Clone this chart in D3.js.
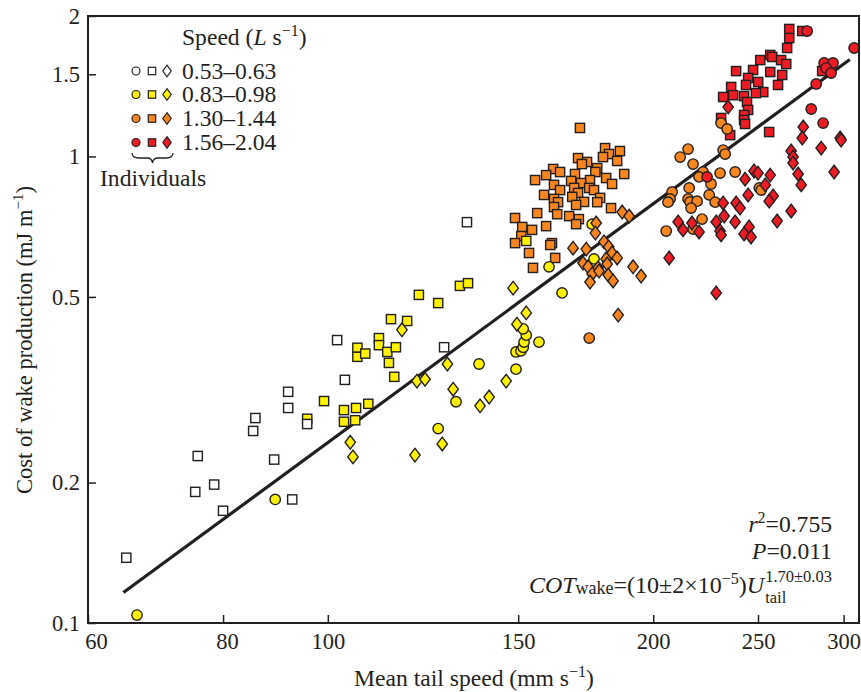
<!DOCTYPE html>
<html><head><meta charset="utf-8">
<script src="https://cdn.jsdelivr.net/npm/d3@7"></script>
<style>
body{margin:0;background:#fff}
svg{display:block}
text{font-family:"Liberation Serif","Times New Roman",serif;fill:#231f20}
</style>
</head><body>
<svg id="chart" width="861" height="692"></svg>
<script>
// ---------------- data ----------------
const xTicks = [60, 80, 100, 150, 200, 250, 300];
const yTicks = [0.1, 0.2, 0.5, 1, 1.5, 2];
const speedLabels = ["0.53–0.63", "0.83–0.98", "1.30–1.44", "1.56–2.04"];
const speedColors = ["#ffffff", "#fff200", "#f7861f", "#ed1c24"];

// [mean tail speed (mm/s), cost of wake production (mJ/m)]
const whiteSquares = [[65.1,0.138],[75.4,0.191],[75.8,0.228],[78.5,0.198],[80.0,0.174],[85.3,0.258],[85.7,0.275],[89.2,0.224],[91.9,0.313],[91.9,0.289],[92.7,0.184],[95.7,0.267],[102.0,0.404],[103.7,0.332],[128.1,0.390],[134.5,0.723]];

const yellowCircles = [[66.6,0.104],[89.4,0.184],[126.5,0.261],[131.4,0.298],[138.0,0.359],[149.3,0.381],[150.9,0.383],[151.6,0.390],[151.9,0.400],[152.6,0.414],[151.6,0.427],[156.8,0.400],[149.3,0.350],[160.2,0.580],[164.7,0.510],[176.3,0.603],[175.6,0.716]];
const yellowSquares = [[95.7,0.274],[99.2,0.299],[103.5,0.286],[103.5,0.270],[106.2,0.289],[106.0,0.272],[109.0,0.295],[106.5,0.389],[106.5,0.372],[108.3,0.378],[111.5,0.408],[111.5,0.394],[113.5,0.381],[113.9,0.361],[115.2,0.337],[115.6,0.390],[114.4,0.448],[118.4,0.444],[121.4,0.505],[126.5,0.485],[132.5,0.528],[134.8,0.535],[152.6,0.659]];
const yellowDiamonds = [[104.9,0.244],[105.5,0.227],[117.1,0.425],[120.9,0.330],[123.0,0.333],[129.0,0.359],[130.6,0.317],[120.4,0.229],[127.6,0.242],[138.3,0.292],[141.0,0.305],[146.2,0.330],[148.4,0.522],[152.6,0.462],[149.6,0.437]];

const orangeSquares = [[171.1,1.151],[180.5,1.042],[182.0,1.012],[186.3,1.027],[179.7,0.997],[185.2,0.978],[170.4,0.992],[173.7,0.973],[171.8,0.963],[177.5,0.944],[176.8,0.926],[188.0,0.917],[161.6,0.940],[164.0,0.926],[159.2,0.912],[169.3,0.917],[155.5,0.890],[174.8,0.890],[180.9,0.899],[183.2,0.873],[161.9,0.869],[167.9,0.886],[171.5,0.877],[169.0,0.856],[174.5,0.856],[176.3,0.847],[164.0,0.847],[170.4,0.835],[168.3,0.819],[158.5,0.827],[178.6,0.815],[161.9,0.811],[163.3,0.798],[172.6,0.799],[177.5,0.798],[161.9,0.779],[169.7,0.787],[182.8,0.775],[156.2,0.756],[163.0,0.752],[167.2,0.745],[170.7,0.734],[149.0,0.738],[169.7,0.716],[159.2,0.709],[151.3,0.706],[154.5,0.696],[151.0,0.675],[149.0,0.652],[161.2,0.652],[160.6,0.646],[153.5,0.621],[162.3,0.606],[154.8,0.577]];
const orangeDiamonds = [[177.1,0.720],[176.8,0.685],[187.2,0.760],[190.0,0.745],[168.6,0.636],[173.4,0.633],[180.1,0.656],[181.9,0.640],[183.2,0.621],[185.2,0.606],[180.9,0.603],[172.2,0.591],[174.1,0.580],[177.8,0.577],[181.3,0.588],[191.6,0.580],[194.9,0.554],[175.6,0.560],[181.7,0.557],[183.6,0.541],[174.8,0.538],[185.6,0.457],[178.2,0.568]];
const orangeCircles = [[231.1,1.179],[234.1,1.145],[215.4,1.037],[211.8,0.997],[232.1,1.032],[233.1,1.012],[217.7,0.963],[222.4,0.926],[220.5,0.904],[230.6,0.921],[238.1,0.926],[226.2,0.873],[208.2,0.839],[215.9,0.856],[207.3,0.811],[206.4,0.798],[215.4,0.811],[216.3,0.799],[219.6,0.802],[216.8,0.775],[225.3,0.827],[228.2,0.798],[221.9,0.734],[217.7,0.699],[205.6,0.692],[250.7,0.856],[251.7,0.847],[174.5,0.408]];

const redSquares = [[267.2,1.876],[267.2,1.794],[274.7,1.857],[266.0,1.708],[256.6,1.650],[257.7,1.634],[251.2,1.609],[262.6,1.609],[265.5,1.578],[238.6,1.524],[247.4,1.532],[256.6,1.517],[263.2,1.495],[244.8,1.473],[250.1,1.444],[243.7,1.423],[236.1,1.409],[260.9,1.423],[252.8,1.374],[248.9,1.367],[237.1,1.353],[232.1,1.341],[242.7,1.347],[244.2,1.308],[244.8,1.258],[242.7,1.227],[242.7,1.197],[243.2,1.174],[231.1,1.209],[235.6,1.111],[256.0,1.128],[286.6,1.524]];
const redCircles = [[277.6,1.857],[306.8,1.708],[287.8,1.586],[293.3,1.586],[289.0,1.547],[292.1,1.509],[283.0,1.430],[280.0,1.264],[287.2,1.179],[224.3,0.904]];
const redDiamonds = [[234.6,1.276],[275.3,1.156],[274.7,1.095],[286.0,1.042],[297.8,1.095],[298.4,1.084],[268.3,1.027],[269.4,0.997],[269.4,0.968],[272.3,0.917],[274.1,0.869],[294.0,0.926],[247.9,0.931],[250.0,0.921],[243.2,0.894],[256.6,0.912],[253.9,0.869],[244.8,0.827],[258.2,0.823],[256.0,0.802],[232.1,0.795],[238.6,0.795],[240.6,0.775],[232.6,0.745],[210.9,0.724],[213.1,0.696],[217.2,0.720],[220.5,0.689],[228.7,0.724],[230.6,0.692],[231.1,0.679],[238.1,0.724],[245.3,0.706],[242.7,0.682],[246.3,0.672],[260.4,0.727],[268.3,0.764],[206.9,0.606],[228.7,0.510]];

// regression: COT_wake = a * U_tail^b
const fitCoef = 9.7e-5, fitExp = 1.70;
const fitRange = [64.7, 304];

// ---------------- chart ----------------
const ink = "#231f20";
const svg = d3.select("#chart");
const x = d3.scaleLog().domain([60, 310]).range([88, 859]);
const y = d3.scaleLog().domain([0.1, 2]).range([623, 16]);
const FS = 22.5;   // tick labels, y title
const FL = 23.6;   // legend, annotations, x title

// regression line (beneath points)
const line = d3.line().x(d => x(d)).y(d => y(fitCoef * Math.pow(d, fitExp)));
svg.append("path").attr("d", line(fitRange))
  .attr("fill", "none").attr("stroke", ink).attr("stroke-width", 3.2);

function drawMarks(g, data, shape, color, s) {
  const sel = g.selectAll(null).data(data).enter();
  if (shape === "circle") {
    sel.append("circle").attr("cx", d => x(d[0])).attr("cy", d => y(d[1])).attr("r", s.r);
  } else if (shape === "square") {
    sel.append("rect").attr("x", d => x(d[0]) - s.a/2).attr("y", d => y(d[1]) - s.a/2)
      .attr("width", s.a).attr("height", s.a);
  } else {
    sel.append("path").attr("d", d => {
      const cx = x(d[0]), cy = y(d[1]);
      return `M${cx},${cy - s.hh}L${cx + s.hw},${cy}L${cx},${cy + s.hh}L${cx - s.hw},${cy}Z`;
    });
  }
  g.attr("fill", color).attr("stroke", ink).attr("stroke-width", 1.4);
}
const big = {r: 5.2, a: 9.2, hw: 5.2, hh: 6.8};

const series = [
  {d: redSquares, shape: "square", g: 3},
  {d: orangeSquares, shape: "square", g: 2},
  {d: yellowSquares, shape: "square", g: 1},
  {d: whiteSquares, shape: "square", g: 0},
  {d: yellowCircles, shape: "circle", g: 1},
  {d: orangeCircles, shape: "circle", g: 2},
  {d: redCircles, shape: "circle", g: 3},
  {d: yellowDiamonds, shape: "diamond", g: 1},
  {d: orangeDiamonds, shape: "diamond", g: 2},
  {d: redDiamonds, shape: "diamond", g: 3}
];
series.forEach(sr => drawMarks(svg.append("g"), sr.d, sr.shape, speedColors[sr.g], big));

// frame
svg.append("rect").attr("x", 88).attr("y", 16).attr("width", 771).attr("height", 607)
  .attr("fill", "none").attr("stroke", ink).attr("stroke-width", 2);

// axes
const xAxis = svg.append("g").attr("transform", "translate(0,623)")
  .call(d3.axisBottom(x).tickValues(xTicks).tickFormat(d3.format("d")).tickSize(-8).tickPadding(10));
const yAxis = svg.append("g").attr("transform", "translate(88,0)")
  .call(d3.axisLeft(y).tickValues(yTicks).tickFormat(d => String(d)).tickSize(-8).tickPadding(8));
[xAxis, yAxis].forEach(a => {
  a.select(".domain").remove();
  a.selectAll(".tick line").attr("stroke", ink).attr("stroke-width", 1.5);
  a.selectAll(".tick text").attr("font-size", FS).attr("font-family", null).style("fill", ink);
  a.attr("font-family", null);
});
// the first x labels sit slightly right of their ticks in the original
xAxis.selectAll(".tick text").attr("dx", d => d === 60 ? 8 : (d === 80 ? 4 : 0));

// axis titles
const xt = svg.append("text").attr("x", 474).attr("y", 686).attr("text-anchor", "middle").attr("font-size", FL);
xt.append("tspan").text("Mean tail speed (mm s");
xt.append("tspan").attr("dy", -9).attr("font-size", 16).text("−1");
xt.append("tspan").attr("dy", 9).text(")");

const yt = svg.append("text").attr("transform", "translate(32,340) rotate(-90)").attr("text-anchor", "middle").attr("font-size", FS);
yt.append("tspan").text("Cost of wake production (mJ m");
yt.append("tspan").attr("dy", -9).attr("font-size", 15).text("−1");
yt.append("tspan").attr("dy", 9).text(")");

// legend
const lt = svg.append("text").attr("x", 182).attr("y", 45).attr("font-size", FL);
lt.append("tspan").text("Speed (");
lt.append("tspan").attr("font-style", "italic").text("L");
lt.append("tspan").text(" s");
lt.append("tspan").attr("dy", -9).attr("font-size", 16).text("−1");
lt.append("tspan").attr("dy", 9).text(")");

const small = {r: 4.0, a: 7.4, hw: 4.2, hh: 5.8};
const legendRowY = [71, 94.5, 118.5, 142.5];
speedLabels.forEach((lab, i) => {
  const cy = legendRowY[i];
  const g = svg.append("g").attr("fill", speedColors[i]).attr("stroke", ink).attr("stroke-width", 1.2);
  g.append("circle").attr("cx", 136).attr("cy", cy).attr("r", small.r);
  g.append("rect").attr("x", 152 - small.a/2).attr("y", cy - small.a/2).attr("width", small.a).attr("height", small.a);
  g.append("path").attr("d", `M167,${cy - small.hh}L${167 + small.hw},${cy}L167,${cy + small.hh}L${167 - small.hw},${cy}Z`);
  svg.append("text").attr("x", 182).attr("y", cy + 7.5).attr("font-size", FL).text(lab);
});
// brace
svg.append("path")
  .attr("d", "M132,153 Q132,158 139,158 L147,158 Q152,158 152.5,163 Q153,158 158,158 L166,158 Q173,158 173,153")
  .attr("fill", "none").attr("stroke", ink).attr("stroke-width", 1.3);
svg.append("text").attr("x", 100).attr("y", 186).attr("font-size", FL).text("Individuals");

// statistics
const rt = svg.append("text").attr("x", 832).attr("y", 532).attr("text-anchor", "end").attr("font-size", FL);
rt.append("tspan").attr("font-style", "italic").text("r");
rt.append("tspan").attr("dy", -9).attr("font-size", 16).text("2");
rt.append("tspan").attr("dy", 9).text("=0.755");
const pt = svg.append("text").attr("x", 832).attr("y", 559).attr("text-anchor", "end").attr("font-size", FL);
pt.append("tspan").attr("font-style", "italic").text("P");
pt.append("tspan").text("=0.011");

const eq = svg.append("text").attr("x", 0).attr("y", 593).attr("font-size", 24);
eq.append("tspan").attr("font-style", "italic").text("COT");
eq.append("tspan").attr("font-size", 18).attr("dy", 1).text("wake");
eq.append("tspan").attr("dy", -1).text("=(10±2×10");
eq.append("tspan").attr("dy", -9).attr("font-size", 16).text("−5");
eq.append("tspan").attr("dy", 9).text(")");
eq.append("tspan").attr("font-style", "italic").text("U");
const mainW = eq.node().getComputedTextLength();
const sup = svg.append("text").attr("y", 582).attr("font-size", 16.5).text("1.70±0.03");
const sub = svg.append("text").attr("y", 603).attr("font-size", 16.5).text("tail");
const supW = Math.max(sup.node().getComputedTextLength(), sub.node().getComputedTextLength());
const x0 = 832 - mainW - supW - 1;
eq.attr("x", x0);
sup.attr("x", x0 + mainW + 1);
sub.attr("x", x0 + mainW + 1);
</script>
</body></html>
